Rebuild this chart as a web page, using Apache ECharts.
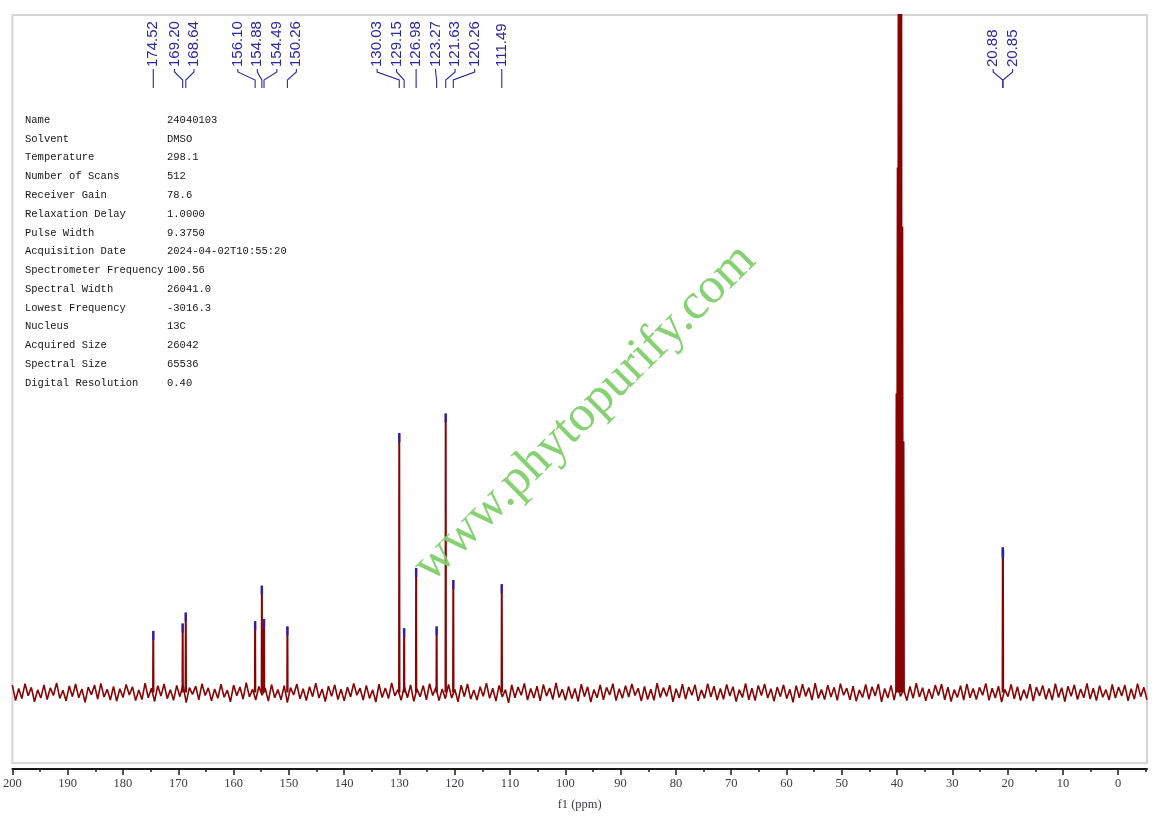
<!DOCTYPE html>
<html><head><meta charset="utf-8">
<script src="https://cdn.jsdelivr.net/npm/echarts@6/dist/echarts.min.js"></script>
<style>html,body{margin:0;padding:0;background:#fff}#c{width:1157px;height:817px}</style>
</head><body><div id="c"></div>
<script>
// ---- data ----
const peakPpm    = [174.52,169.20,168.64,156.10,154.88,154.49,150.26,130.03,129.15,126.98,123.27,121.63,120.26,111.49,20.88,20.85];
const peakHeight = [21.8,24.4,28.3,25.2,37.8,26.0,23.4,91.9,22.7,44.1,23.4,98.8,39.8,38.3,51.4,50.6];
const peakLabels = ['174.52','169.20','168.64','156.10','154.88','154.49','150.26','130.03','129.15','126.98','123.27','121.63','120.26','111.49','20.88','20.85'];
const solventPpm    = [40.10,39.89,39.68,39.47,39.26,39.05,38.84];
const solventHeight = [106,186,420,480,420,165,89];
const noise = [
2.6,-2.9,1.4,-2.2,3.1,-1.2,1.8,-3.3,0.9,-2.0,2.7,-2.5,1.6,-1.1,3.4,-2.1,0.8,-3.0,2.3,-1.5,
3.0,-1.9,1.2,-3.5,1.9,-0.8,2.6,-2.4,3.2,-1.6,1.1,-2.7,2.1,-3.1,1.3,-1.8,2.8,-0.9,2.0,-2.9,
0.9,-2.5,3.3,-1.9,1.5,-3.2,2.4,-1.3,3.0,-2.2,1.0,-2.8,2.5,-1.5,2.7,-3.6,1.7,-0.7,2.2,-2.6,
3.1,-1.1,1.6,-3.0,1.2,-2.1,2.9,-1.7,0.8,-3.3,2.6,-1.2,1.9,-2.4,3.5,-1.6,1.1,-2.7,2.1,-1.0,
1.5,-3.1,2.8,-1.9,1.0,-2.6,2.4,-3.6,1.7,-0.9,3.0,-2.3,1.3,-2.9,2.0,-1.5,3.3,-2.0,1.2,-3.2,
2.2,-1.4,2.7,-2.5,1.1,-3.0,1.9,-1.6,3.2,-1.0,1.5,-2.7,2.5,-2.1,0.9,-3.4,2.9,-1.8,1.6,-2.2,
3.4,-1.2,1.0,-2.8,2.1,-1.9,2.7,-3.2,1.3,-1.5,2.4,-2.6,3.1,-1.1,1.8,-2.9,1.2,-2.2,2.8,-2.0,
1.1,-3.3,2.6,-1.5,3.0,-2.4,0.9,-2.7,2.0,-1.4,3.3,-2.1,1.5,-3.1,2.5,-1.6,1.0,-3.7,2.7,-1.9,
1.9,-1.0,3.2,-2.7,1.4,-2.0,2.2,-3.0,2.8,-1.3,1.6,-2.5,3.4,-1.8,1.1,-2.8,2.1,-2.2,1.4,-3.2,
2.9,-1.5,2.0,-3.4,1.0,-1.9,2.7,-2.6,1.8,-0.9,3.1,-2.9,1.3,-2.1,2.4,-1.6,3.0,-1.1,1.5,-3.1,
2.1,-2.5,1.1,-2.8,3.3,-1.8,1.7,-1.4,2.6,-3.3,1.3,-2.0,2.9,-2.4,1.9,-1.0,2.7,-3.0,0.9,-2.1,
3.1,-1.6,2.2,-2.7,1.4,-2.4,2.8,-1.3,2.0,-3.2,1.0,-1.8,3.2,-2.6,1.5,-2.9,2.5,-1.1,3.0,-2.0,
1.3,-3.1,1.9,-1.5,2.7,-2.2,1.1,-3.5,2.4,-1.9,2.9,-1.4,1.7,-2.7,3.3,-2.1,1.0,-2.5,2.6,-1.6,
1.8,-2.8,3.1,-1.0,1.5,-2.6,2.2,-3.1,0.9,-1.8,2.8,-2.4,2.0,-1.3,3.0,-3.3,1.4,-2.0,2.5,-2.7,
2.7,-1.4,1.1,-2.9,2.1,-2.1,3.3,-1.6,1.7,-3.0,1.2,-2.2,2.6,-1.1,2.9,-2.6,1.9,-3.2,1.0,-1.8,
2.4,-2.7,3.0,-1.9,1.4,-2.5,1.8,-1.0,3.2,-2.8,1.5,-2.0,2.2,-3.4,1.1,-1.5,2.8,-2.3,2.0,-2.9,
1.0,-2.1,2.9,-3.1,1.9,-1.3,2.5,-2.4,1.4,-2.7,3.1,-1.8,1.7,-3.2,2.2,-1.4,2.7,-2.5,1.2,-1.9,
3.2,-2.3,1.5,-2.9,2.4,-1.7,1.0,-2.7,2.8,-2.0,1.9,-1.3,2.6,-3.0,1.3,-2.4,3.1,-1.5,1.8,-2.6
];
const noiseFromPpm = 200, noiseToPpm = -5.2;
const tickValues = [200,190,180,170,160,150,140,130,120,110,100,90,80,70,60,50,40,30,20,10,0];
const minorTickValues = [195,185,175,165,155,145,135,125,115,105,95,85,75,65,55,45,35,25,15,5,-5];
const paramNames  = ['Name','Solvent','Temperature','Number of Scans','Receiver Gain','Relaxation Delay','Pulse Width','Acquisition Date','Spectrometer Frequency','Spectral Width','Lowest Frequency','Nucleus','Acquired Size','Spectral Size','Digital Resolution'];
const paramValues = ['24040103','DMSO','298.1','512','78.6','1.0000','9.3750','2024-04-02T10:55:20','100.56','26041.0','-3016.3','13C','26042','65536','0.40'];
const watermarkText = 'www.phytopurify.com';
const axisName = 'f1 (ppm)';

// ---- build series data ----
const noiseData = noise.map((v,i)=>[noiseFromPpm - i*(noiseFromPpm-noiseToPpm)/(noise.length-1), v]);
const hw = 0.04;
const peakLine = [];
peakPpm.forEach((p,i)=>{ peakLine.push([p+hw,0],[p,peakHeight[i]],[p-hw,0],[p-hw,'-']); });
solventPpm.forEach((p,i)=>{ peakLine.push([p+0.08,0],[p,solventHeight[i]],[p-0.08,0]); });
const markerData = peakPpm.map((p,i)=>[p,peakHeight[i]]);

const chart = echarts.init(document.getElementById('c'), null, {renderer:'canvas'});
const red = '#880404';
const option = {
  animation:false,
  backgroundColor:'#ffffff',
  grid:{left:10,right:10,top:15,bottom:54,show:true,borderColor:'#d6d6d6',borderWidth:2,backgroundColor:'transparent'},
  xAxis:[{
    type:'value',min:-5.2,max:200,inverse:true,position:'bottom',offset:6,
    axisLine:{show:true,onZero:false,lineStyle:{color:'#1a1a1a',width:2}},
    axisTick:{show:true,customValues:tickValues,length:6,inside:false,lineStyle:{color:'#1a1a1a',width:1.5}},
    axisLabel:{show:true,customValues:tickValues,margin:8,fontFamily:'Liberation Serif',fontSize:12.5,color:'#3a3a4a'},
    splitLine:{show:false},
    name:axisName,nameLocation:'middle',nameGap:29,
    nameTextStyle:{fontFamily:'Liberation Serif',fontSize:12.5,color:'#3a3a4a'}
  },{
    type:'value',min:-5.2,max:200,inverse:true,position:'bottom',offset:6,
    axisLine:{show:false,onZero:false},
    axisTick:{show:true,customValues:minorTickValues,length:3,inside:false,lineStyle:{color:'#1a1a1a',width:1.5}},
    axisLabel:{show:false},splitLine:{show:false}
  }],
  yAxis:{type:'value',min:-25,max:240,show:false,splitLine:{show:false}},
  series:[
    {type:'line',data:noiseData,showSymbol:false,symbol:'none',lineStyle:{color:red,width:1.6},clip:true,silent:true,sampling:null,z:2},
    {type:'line',data:peakLine,showSymbol:false,symbol:'none',connectNulls:false,lineStyle:{color:red,width:2},clip:true,silent:true,z:3},
    {type:'scatter',data:markerData,symbol:'rect',symbolSize:[2.5,9],symbolOffset:[0,4.5],itemStyle:{color:'#2323b8'},silent:true,z:4}
  ]
};
chart.setOption(option);

// ---- peak label layout (spread labels around their peak pixel positions) ----
const gap = 19.5;
const items = peakPpm.map((p,i)=>({label:peakLabels[i], px:chart.convertToPixel({xAxisIndex:0}, p)})).sort((a,b)=>a.px-b.px);
let clusters = items.map(it=>({items:[it]}));
function place(c){ const m=c.items.reduce((s,it)=>s+it.px,0)/c.items.length; const n=c.items.length; c.items.forEach((it,k)=>{it.lx=m+(k-(n-1)/2)*gap;}); }
clusters.forEach(place);
let merged=true;
while(merged){
  merged=false;
  for(let i=0;i<clusters.length-1;i++){
    const a=clusters[i], b=clusters[i+1];
    if(a.items[a.items.length-1].lx + gap > b.items[0].lx){
      const c={items:a.items.concat(b.items)}; place(c);
      clusters.splice(i,2,c); merged=true; break;
    }
  }
}
const labelColor = '#2a2a9c';
const graphics = [];
items.forEach(it=>{
  graphics.push({type:'text',x:it.lx,y:67,rotation:Math.PI/2,silent:true,
    style:{text:it.label,fill:labelColor,font:'15px "Liberation Sans", Arial, sans-serif',textAlign:'left',textVerticalAlign:'middle'}});
  graphics.push({type:'polyline',silent:true,shape:{points:[[it.lx,69],[it.lx,72],[it.px,80],[it.px,88]]},
    style:{stroke:labelColor,lineWidth:1.1,fill:null}});
});
// parameter table
paramNames.forEach((n,i)=>{
  const y = 120 + i*18.79;
  graphics.push({type:'text',x:25,y:y,silent:true,style:{text:n,fill:'#151515',font:'10.5px "Liberation Mono", monospace',textVerticalAlign:'middle'}});
  graphics.push({type:'text',x:167,y:y,silent:true,style:{text:paramValues[i],fill:'#151515',font:'10.5px "Liberation Mono", monospace',textVerticalAlign:'middle'}});
});
// watermark
graphics.push({type:'text',x:585,y:413,rotation:0.778,silent:true,z:10,
  style:{text:watermarkText,fill:'#7fd06c',font:'51px "Liberation Serif", serif',textAlign:'center',textVerticalAlign:'middle',opacity:0.95}});
chart.setOption({graphic:graphics});
</script>
</body></html>
